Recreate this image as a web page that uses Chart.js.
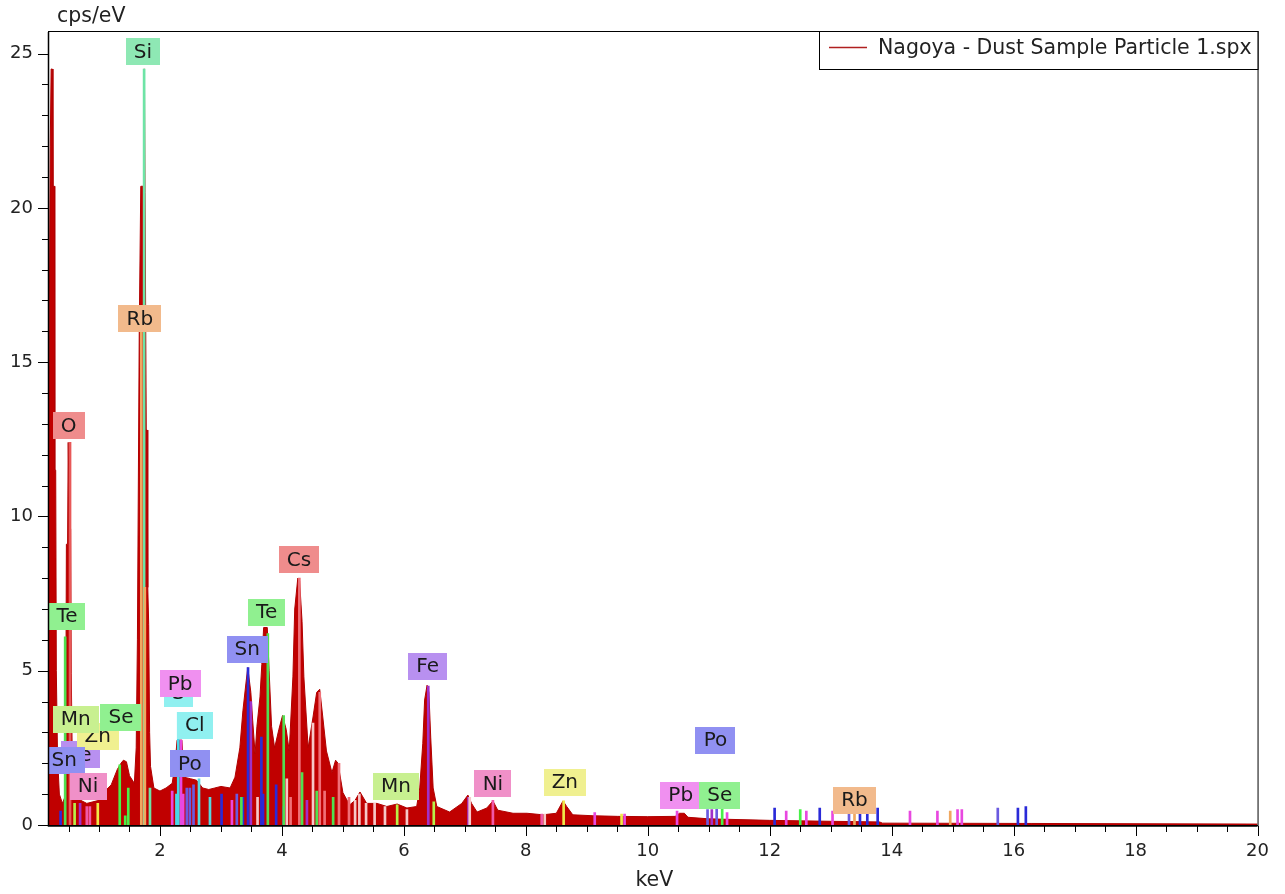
<!DOCTYPE html>
<html lang="en">
<head>
<meta charset="UTF-8">
<title>Nagoya - Dust Sample Particle 1</title>
<script src="https://cdn.jsdelivr.net/npm/chart.js"></script>
<style>
  body { margin: 0; background: #ffffff; }
  #wrap { width: 1285px; height: 894px; }
</style>
</head>
<body>
<div id="wrap"><canvas id="spectrum" width="1285" height="894"></canvas></div>
<script>
// measured spectrum: energy (keV) and intensity (cps/eV)
const energy = [
  0.18, 0.19, 0.20, 0.215, 0.235, 0.245, 0.27, 0.275, 0.29, 0.30, 0.32, 0.35, 0.40, 0.44, 0.455,
  0.465, 0.485, 0.495, 0.505, 0.515, 0.535, 0.545, 0.565, 0.60, 0.70, 0.80, 0.90, 1.00, 1.10, 1.20,
  1.30, 1.36, 1.40, 1.45, 1.50, 1.58, 1.61, 1.63, 1.66, 1.685, 1.725, 1.735, 1.745, 1.755, 1.77,
  1.775, 1.79, 1.80, 1.815, 1.83, 1.845, 1.90, 2.00, 2.10, 2.20, 2.25, 2.28, 2.36, 2.39, 2.50,
  2.60, 2.70, 2.80, 2.90, 3.00, 3.15, 3.23, 3.31, 3.36, 3.41, 3.44, 3.49, 3.52, 3.56, 3.59,
  3.64, 3.67, 3.70, 3.76, 3.79, 3.83, 3.88, 3.95, 4.01, 4.07, 4.12, 4.18, 4.21, 4.26, 4.29,
  4.33, 4.36, 4.43, 4.51, 4.57, 4.62, 4.67, 4.73, 4.82, 4.88, 4.92, 5.00, 5.11, 5.20, 5.28,
  5.39, 5.56, 5.72, 5.89, 6.05, 6.21, 6.26, 6.31, 6.34, 6.38, 6.41, 6.44, 6.48, 6.54, 6.75,
  6.95, 7.05, 7.11, 7.20, 7.36, 7.46, 7.54, 7.79, 8.02, 8.28, 8.50, 8.61, 8.67, 8.77, 9.10,
  9.50, 10.0, 10.45, 10.52, 10.60, 10.66, 11.0, 12.0, 13.0, 13.8, 13.85, 16.3, 20.0
];
const counts = [
  14.6, 14.6, 22.0, 24.5, 24.5, 20.7, 20.7, 11.5, 11.5, 5.0, 2.2, 1.0, 0.7, 0.9, 3.0,
  9.1, 9.1, 12.4, 12.4, 9.6, 9.6, 4.9, 1.6, 0.9, 0.8, 0.7, 0.75, 0.8, 1.1, 1.3,
  1.8, 2.0, 2.1, 2.05, 1.6, 1.35, 2.5, 6.0, 16.0, 20.7, 20.7, 24.5, 24.5, 20.5, 20.5,
  12.8, 12.8, 7.7, 6.5, 3.0, 1.9, 1.2, 1.1, 1.2, 1.35, 2.0, 2.75, 2.75, 1.55, 1.5,
  1.45, 1.2, 1.15, 1.2, 1.25, 1.2, 1.55, 2.5, 3.7, 4.6, 5.1, 4.3, 3.4, 2.3, 3.2,
  4.15, 5.2, 6.4, 6.4, 5.0, 3.2, 2.5, 3.1, 3.55, 3.1, 2.4, 4.8, 7.0, 8.0, 7.9,
  6.6, 4.8, 2.5, 3.5, 4.3, 4.4, 3.5, 2.4, 1.7, 2.1, 2.0, 1.05, 0.65, 0.8, 1.07,
  0.7, 0.7, 0.6, 0.68, 0.55, 0.6, 1.2, 2.65, 4.05, 4.53, 4.3, 2.85, 1.2, 0.6, 0.42,
  0.7, 0.97, 0.7, 0.42, 0.55, 0.78, 0.48, 0.38, 0.38, 0.33, 0.38, 0.78, 0.6, 0.33, 0.3,
  0.28, 0.27, 0.28, 0.38, 0.38, 0.25, 0.2, 0.15, 0.12, 0.1, 0.06, 0.05, 0.03
];

// element line markers: [keV, height]
const oLines  = [[0.525, 12.4]];
const siLines = [[1.740, 24.5], [1.836, 1.2]];
const rbLines = [[1.694, 16.0], [1.752, 7.7], [13.39, 0.45], [14.96, 0.45]];
const teLines = [[0.445, 6.1], [3.335, 0.9], [3.769, 6.2], [4.029, 3.55], [4.33, 1.7], [4.571, 1.1], [4.84, 0.9]];
const csLines = [[4.142, 0.9], [4.286, 8.0], [4.620, 4.3], [4.70, 1.1], [4.936, 2.0], [5.10, 0.9]];
const snLines = [[0.37, 0.45], [3.01, 1.0], [3.36, 0.9], [3.444, 5.1], [3.663, 2.85], [3.69, 1.0], [3.905, 1.3],
                 [4.03, 0.6], [12.08, 0.55], [12.82, 0.55], [13.48, 0.55], [13.60, 0.55], [13.77, 0.55],
                 [16.07, 0.55], [16.20, 0.6]];
const sLines  = [[2.30, 3.65], [2.27, 1.0]];
const pbLines = [[2.20, 1.1], [2.345, 2.75], [2.38, 1.0], [3.18, 0.8], [9.13, 0.4], [9.62, 0.35], [10.48, 0.45],
                 [11.30, 0.4], [12.27, 0.45], [12.60, 0.45], [13.03, 0.45], [14.30, 0.45], [14.75, 0.45],
                 [15.08, 0.5], [15.15, 0.5]];
const clLines = [[2.64, 1.5], [2.82, 0.9]];
const poLines = [[2.44, 1.2], [2.49, 1.2], [2.55, 1.3], [3.26, 1.0], [10.98, 0.5], [11.13, 0.55], [13.30, 0.55], [15.74, 0.55]];
const feLines = [[0.69, 0.7], [3.49, 4.0], [4.41, 0.8], [6.40, 4.5], [7.06, 0.9], [11.05, 0.5]];
const mnLines = [[0.60, 0.7], [5.89, 0.65], [6.49, 0.75]];
const niLines = [[0.80, 0.6], [0.85, 0.6], [7.46, 0.8], [8.26, 0.35]];
const znLines = [[0.98, 0.7], [8.62, 0.78], [9.57, 0.35]];
const seLines = [[1.34, 1.95], [1.43, 0.3], [1.48, 1.2], [11.22, 0.55], [12.50, 0.5]];
const paleLines = [[3.60, 0.9], [4.08, 1.5], [4.51, 3.3], [5.20, 0.8], [5.27, 1.0], [5.38, 0.7], [5.52, 0.7],
                   [5.69, 0.6], [6.05, 0.5], [7.08, 0.9], [8.31, 0.35]];

const markerSets = [
  ['pale', paleLines, '#f6c8c8'],
  ['O', oLines, '#e85858'],
  ['Rb', rbLines, '#f0a860'],
  ['Si', siLines, '#6ee4a6'],
  ['Te', teLines, '#50e050'],
  ['Cs', csLines, '#f07078'],
  ['Sn', snLines, '#2a2ad8'],
  ['S', sLines, '#48d8e8'],
  ['Pb', pbLines, '#e848e0'],
  ['Cl', clLines, '#58d8e0'],
  ['Po', poLines, '#6a5ae0'],
  ['Fe', feLines, '#a030c8'],
  ['Mn', mnLines, '#b8f048'],
  ['Ni', niLines, '#f058a8'],
  ['Zn', znLines, '#f0e848'],
  ['Se', seLines, '#48f048']
];

// element tags: name, energy (keV), height (cps/eV) of the tag centre
const tagNames = ['Si', 'Rb', 'O', 'Te', 'Fe', 'Zn', 'Mn', 'Sn', 'Se', 'Ni', 'S', 'Pb', 'Cl', 'Po',
                  'Sn', 'Te', 'Cs', 'Fe', 'Mn', 'Ni', 'Zn', 'Pb', 'Se', 'Po', 'Rb'];
const tagKeV = [1.72, 1.67, 0.50, 0.475, 0.69, 0.98, 0.62, 0.43, 1.36, 0.82, 2.30, 2.33, 2.57, 2.49,
                3.43, 3.75, 4.28, 6.39, 5.87, 7.46, 8.64, 10.54, 11.18, 11.11, 13.39];
const tagCps = [25.07, 16.4, 12.95, 6.77, 2.27, 2.88, 3.43, 2.1, 3.5, 1.26, 4.27, 4.57, 3.24, 1.98,
                5.7, 6.9, 8.61, 5.15, 1.26, 1.33, 1.39, 0.97, 0.97, 2.75, 0.81];
const tagColors = {
  Si: '#8ee8b4', Rb: '#f2ba8c', O: '#ef8c8c', Te: '#90f090', Cs: '#ef8c8c', Sn: '#9090f2',
  Fe: '#b890f0', Pb: '#f090f0', Cl: '#90f0f0', S: '#90f0f0', Po: '#9090f2', Mn: '#c8f090',
  Ni: '#f090c8', Zn: '#f0f090', Se: '#90f090'
};

const xMajor = [2, 4, 6, 8, 10, 12, 14, 16, 18, 20];
const yMajor = [0, 5, 10, 15, 20, 25];

const FONT = 'DejaVu Sans';

const spectrumData = energy.map((e, i) => ({ x: e, y: counts[i] }));

const datasets = [{
  type: 'line',
  label: 'Nagoya - Dust Sample Particle 1.spx',
  data: spectrumData,
  fill: 'origin',
  backgroundColor: '#c00000',
  borderColor: '#b00000',
  borderWidth: 1,
  pointRadius: 0,
  tension: 0,
  order: 10
}];
markerSets.forEach(([name, lines, color]) => {
  datasets.push({
    type: 'bar',
    label: name,
    data: lines.map(([x, y]) => ({ x, y })),
    backgroundColor: color,
    barThickness: 2,
    grouped: false,
    order: 1
  });
});

// frame, tick marks, axis titles, legend and element tags
const decorations = {
  id: 'decorations',
  afterDatasetsDraw(chart) {
    const ctx = chart.ctx;
    const { left, right, top, bottom } = chart.chartArea;
    const xs = chart.scales.x, ys = chart.scales.y;

    // element tags, clipped to the plot
    ctx.save();
    ctx.beginPath();
    ctx.rect(left, top, right - left, bottom - top);
    ctx.clip();
    ctx.font = '20px ' + FONT;
    ctx.textAlign = 'center';
    ctx.textBaseline = 'middle';
    tagNames.forEach((name, i) => {
      const cx = xs.getPixelForValue(tagKeV[i]);
      const cy = ys.getPixelForValue(tagCps[i]);
      const w = Math.round(ctx.measureText(name).width + 16);
      const h = 27;
      ctx.fillStyle = tagColors[name];
      ctx.fillRect(Math.round(cx - w / 2), Math.round(cy - h / 2), w, h);
      ctx.fillStyle = '#1a1a1a';
      ctx.fillText(name, cx, cy + 1);
    });
    ctx.restore();

    ctx.save();
    ctx.strokeStyle = '#000';
    ctx.lineWidth = 1;
    // frame
    ctx.strokeRect(left - 0.5, top - 0.5, right - left + 1, bottom - top + 1);
    ctx.lineWidth = 1.5;
    ctx.beginPath();
    ctx.moveTo(left - 0.5, top); ctx.lineTo(left - 0.5, bottom + 1);
    ctx.lineTo(right, bottom + 1);
    ctx.stroke();

    // tick marks
    ctx.lineWidth = 1;
    ctx.beginPath();
    for (let v = 0.5; v <= 20.001; v += 0.5) {
      const px = Math.round(xs.getPixelForValue(v)) + 0.5;
      const len = xMajor.includes(Math.round(v * 10) / 10) ? 10 : 6;
      ctx.moveTo(px, bottom + 1); ctx.lineTo(px, bottom + 1 + len);
    }
    for (let v = 0; v <= 25; v += 1) {
      const py = Math.round(ys.getPixelForValue(v)) + 0.5;
      const len = yMajor.includes(v) ? 10 : 6;
      ctx.moveTo(left - 1, py); ctx.lineTo(left - 1 - len, py);
    }
    ctx.stroke();

    // axis titles
    ctx.fillStyle = '#222';
    ctx.font = '20.5px ' + FONT;
    ctx.textBaseline = 'middle';
    ctx.textAlign = 'left';
    ctx.fillText('cps/eV', 57, 17);
    ctx.textAlign = 'center';
    ctx.fillText('keV', (left + right) / 2 + 1, 881);

    // legend box
    const label = chart.data.datasets[0].label;
    const tw = ctx.measureText(label).width;
    const lx = Math.round(right - tw - 65);
    ctx.fillStyle = '#fff';
    ctx.fillRect(lx, top, right - lx, 37);
    ctx.strokeStyle = '#000';
    ctx.strokeRect(lx + 0.5, top - 0.5, right - lx, 38);
    ctx.strokeStyle = '#b02020';
    ctx.lineWidth = 1.5;
    ctx.beginPath();
    ctx.moveTo(lx + 10, top + 15.5); ctx.lineTo(lx + 48, top + 15.5);
    ctx.stroke();
    ctx.fillStyle = '#222';
    ctx.textAlign = 'left';
    ctx.fillText(label, lx + 59, top + 17);
    ctx.restore();
  }
};

new Chart(document.getElementById('spectrum'), {
  type: 'line',
  data: { datasets },
  options: {
    responsive: false,
    animation: false,
    layout: { padding: { left: 0, right: 27, top: 32, bottom: 0 } },
    plugins: { legend: { display: false }, tooltip: { enabled: false } },
    scales: {
      x: {
        type: 'linear',
        min: 0.18,
        max: 20,
        offset: false,
        grid: { display: false, drawTicks: false },
        border: { display: false },
        ticks: {
          stepSize: 2,
          autoSkip: false,
          maxRotation: 0,
          padding: 16,
          color: '#222',
          font: { family: FONT, size: 18 },
          callback: v => (xMajor.includes(v) ? v : '')
        },
        afterFit: s => { s.height = 69; }
      },
      y: {
        type: 'linear',
        min: 0,
        max: 25.7,
        grid: { display: false, drawTicks: false },
        border: { display: false },
        ticks: {
          stepSize: 5,
          padding: 16,
          color: '#222',
          font: { family: FONT, size: 18 },
          callback: v => (yMajor.includes(v) ? v : '')
        },
        afterFit: s => { s.width = 49; }
      }
    }
  },
  plugins: [decorations]
});
</script>
</body>
</html>
